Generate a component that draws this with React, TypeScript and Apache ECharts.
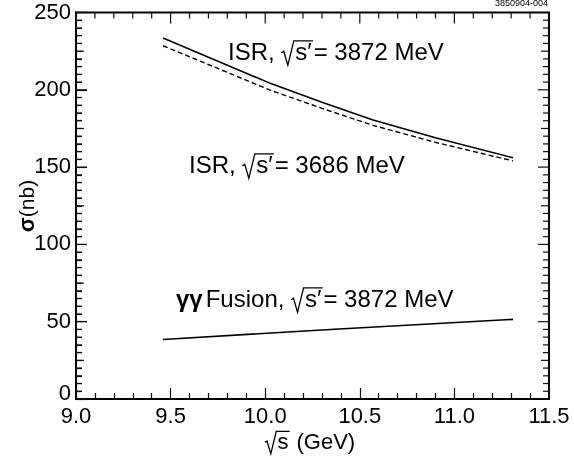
import { useEffect, useRef } from "react";
import * as echarts from "echarts";

// ---- data ----
const isrX = [9.46, 9.75, 10.03, 10.3, 10.57, 10.9, 11.31];
const isr3872 = [233.5, 218.5, 204, 192, 180.5, 169, 156];
const isr3686 = [228.5, 213.8, 199.6, 188, 177, 166, 154];
const ggX = [9.46, 10.39, 11.31];
const gg3872 = [38.5, 45.3, 51.5];

const xMin = 9.0;
const xMax = 11.5;
const xStep = 0.5;
const xMinorStep = 0.1;
const yMin = 0;
const yMax = 250;
const yStep = 50;
const yMinorStep = 5;

const FONT = "'Liberation Sans', Arial, Helvetica, sans-serif";

type Part = { t?: string; bold?: boolean; sqrt?: string; gap?: number };

let measureCtx: CanvasRenderingContext2D | null = null;
function measure(text: string, size: number, bold = false): number {
  if (!measureCtx) {
    const c = document.createElement("canvas");
    measureCtx = c.getContext("2d");
  }
  if (!measureCtx) return text.length * size * 0.55;
  measureCtx.font = `${bold ? "bold " : ""}${size}px ${FONT}`;
  return measureCtx.measureText(text).width;
}

function mathLabel(parts: Part[], x: number, baseline: number, F: number, anchor: "left" | "center" = "left") {
  const radW = 0.58 * F;
  const widths = parts.map((p) => {
    if (p.gap !== undefined) return p.gap;
    if (p.sqrt !== undefined) return radW + measure(p.sqrt, F) + 0.08 * F;
    return measure(p.t || "", F, p.bold);
  });
  const total = widths.reduce((a, b) => a + b, 0);
  let cx = anchor === "center" ? x - total / 2 : x;
  const midY = baseline - 0.35 * F;
  const els: any[] = [];
  parts.forEach((p, i) => {
    if (p.gap !== undefined) {
      // spacing only
    } else if (p.sqrt !== undefined) {
      const rw = measure(p.sqrt, F);
      const x0 = cx;
      const top = baseline - 0.8 * F;
      els.push({
        type: "polyline",
        shape: {
          points: [
            [x0, baseline - 0.3 * F],
            [x0 + 0.1 * F, baseline - 0.36 * F],
            [x0 + 0.27 * F, baseline + 0.22 * F],
            [x0 + 0.52 * F, top],
            [x0 + radW + rw + 0.05 * F, top],
          ],
        },
        style: { stroke: "#000", lineWidth: 1.3, fill: "none" },
      });
      els.push({
        type: "text",
        x: x0 + radW,
        y: midY,
        style: { text: p.sqrt, font: `${F}px ${FONT}`, fill: "#000", align: "left", verticalAlign: "middle" },
      });
    } else {
      els.push({
        type: "text",
        x: cx,
        y: midY,
        style: {
          text: p.t,
          font: `${p.bold ? "bold " : ""}${F}px ${FONT}`,
          fill: "#000",
          align: "left",
          verticalAlign: "middle",
        },
      });
    }
    cx += widths[i];
  });
  return els;
}

// tick values; their positions come from the axes through api.coord
const xTickData: number[][] = [];
for (let i = 0; i <= Math.round((xMax - xMin) / xMinorStep); i++) {
  const v = +(xMin + i * xMinorStep).toFixed(2);
  xTickData.push([v, yMin, i % Math.round(xStep / xMinorStep) === 0 ? 11 : 6]);
}
const yTickData: number[][] = [];
for (let i = 0; i <= Math.round((yMax - yMin) / yMinorStep); i++) {
  const v = yMin + i * yMinorStep;
  yTickData.push([xMin, v, v % yStep === 0 ? 11 : v % (yStep / 2) === 0 ? 8 : 6]);
}

export default function App() {
  const ref = useRef<HTMLDivElement>(null);
  useEffect(() => {
    if (!ref.current) return;
    const chart = echarts.init(ref.current, null, { renderer: "svg" });
    const labels: any[] = [
      ...mathLabel([{ t: "ISR, " }, { sqrt: "s′" }, { t: "= 3872 MeV" }], 228, 60, 24),
      ...mathLabel([{ t: "ISR, " }, { sqrt: "s′" }, { t: "= 3686 MeV" }], 189, 173, 24),
      ...mathLabel(
        [{ t: "γγ", bold: true }, { gap: 3 }, { t: "Fusion, " }, { sqrt: "s′" }, { t: "= 3872 MeV" }],
        176,
        307,
        24
      ),
      ...mathLabel([{ sqrt: "s" }, { t: " (GeV)" }], 310, 449, 22, "center"),
      {
        type: "text",
        x: 26,
        y: 206,
        rotation: Math.PI / 2,
        style: {
          text: "{b|σ}(nb)",
          font: `21px ${FONT}`,
          fill: "#000",
          align: "center",
          verticalAlign: "middle",
          rich: {
            b: { fontWeight: "bold", fontSize: 22, fontFamily: FONT, fill: "#000" },
          },
        },
      },
      {
        type: "text",
        x: 548,
        y: 2.5,
        style: { text: "3850904-004", font: `9px ${FONT}`, fill: "#000", align: "right", verticalAlign: "middle" },
      },
    ];
    chart.setOption({
      animation: false,
      grid: { left: 76, top: 12, width: 473, height: 387, show: true, borderColor: "#000", borderWidth: 2 },
      xAxis: {
        type: "value",
        min: xMin,
        max: xMax,
        interval: xStep,
        axisLine: { show: true, onZero: false, lineStyle: { color: "#000", width: 2 } },
        axisTick: { show: true, inside: true, length: 11, lineStyle: { color: "#111", width: 1.2 } },
        minorTick: { show: true, splitNumber: 5, length: 6, lineStyle: { color: "#111", width: 1.2 } },
        splitLine: { show: false },
        axisLabel: {
          color: "#000",
          fontSize: 22,
          fontFamily: FONT,
          margin: 5,
          formatter: (v: number) => v.toFixed(1),
        },
      },
      yAxis: {
        type: "value",
        min: yMin,
        max: yMax,
        interval: yStep,
        axisLine: { show: true, onZero: false, lineStyle: { color: "#000", width: 2 } },
        axisTick: { show: true, inside: true, length: 11, lineStyle: { color: "#111", width: 1.2 } },
        minorTick: { show: true, splitNumber: 10, length: 6, lineStyle: { color: "#111", width: 1.2 } },
        splitLine: { show: false },
        axisLabel: {
          color: "#000",
          fontSize: 22,
          fontFamily: FONT,
          margin: 5,
          formatter: (v: number) => (v === 0 ? "{z|0}" : "{n|" + v + "}"),
          rich: {
            z: { fontSize: 22, fontFamily: FONT, color: "#000", padding: [0, 0, 13, 0] },
            n: { fontSize: 22, fontFamily: FONT, color: "#000", padding: [0, 0, 3, 0] },
          },
        },
      },
      series: [
        {
          type: "line",
          name: "ISR 3872",
          data: isrX.map((x, i) => [x, isr3872[i]]),
          showSymbol: false,
          lineStyle: { color: "#000", width: 1.6 },
        },
        {
          type: "line",
          name: "ISR 3686",
          data: isrX.map((x, i) => [x, isr3686[i]]),
          showSymbol: false,
          lineStyle: { color: "#000", width: 1.4, type: [5, 3] },
        },
        {
          type: "line",
          name: "gg 3872",
          data: ggX.map((x, i) => [x, gg3872[i]]),
          showSymbol: false,
          lineStyle: { color: "#000", width: 1.6 },
        },
        {
          type: "custom",
          name: "xTicks",
          data: xTickData,
          renderItem: (_p: any, api: any) => {
            const v = api.value(0);
            const len = api.value(2);
            const t = api.coord([v, yMax]);
            return { type: "rect", shape: { x: t[0] - 0.6, y: t[1], width: 1.2, height: len }, style: { fill: "#111" } };
          },
        },
        {
          type: "custom",
          name: "yTicks",
          data: yTickData,
          renderItem: (_p: any, api: any) => {
            const v = api.value(1);
            const len = api.value(2);
            const l = api.coord([xMin, v]);
            const r = api.coord([xMax, v]);
            return {
              type: "group",
              children: [
                { type: "rect", shape: { x: l[0], y: l[1] - 0.6, width: len, height: 1.2 }, style: { fill: "#111" } },
                { type: "rect", shape: { x: r[0] - len, y: r[1] - 0.6, width: len, height: 1.2 }, style: { fill: "#111" } },
              ],
            };
          },
        },
      ],
      graphic: labels,
    });
    return () => chart.dispose();
  }, []);
  return <div ref={ref} style={{ position: "fixed", left: 0, top: 0, width: 574, height: 461 }} />;
}
